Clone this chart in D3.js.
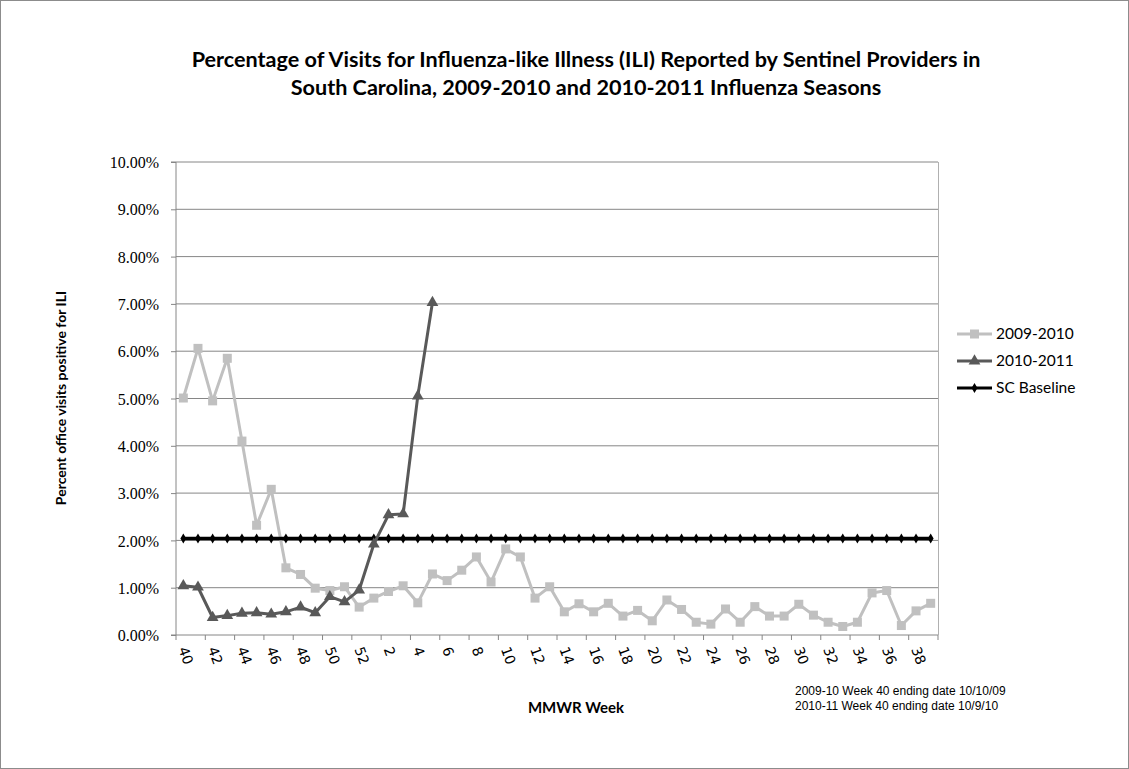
<!DOCTYPE html>
<html>
<head>
<meta charset="utf-8">
<script src="https://cdn.jsdelivr.net/npm/d3@7"></script>
<style>
  body { margin: 0; background: #fff; }
  svg { display: block; }
</style>
</head>
<body>
<svg id="chart" width="1129" height="769"></svg>
<script>
var svg = d3.select("#chart"),
    width = +svg.attr("width"),
    height = +svg.attr("height");

// MMWR weeks 40..52 then 1..39
var weeks = [40,41,42,43,44,45,46,47,48,49,50,51,52,
  1,2,3,4,5,6,7,8,9,10,11,12,13,14,15,16,17,18,19,20,21,22,23,24,25,26,27,28,29,30,31,32,33,34,35,36,37,38,39];

var season0910 = [5.01,6.06,4.95,5.85,4.10,2.32,3.08,1.42,1.28,0.99,0.94,1.02,0.59,
  0.78,0.92,1.04,0.68,1.29,1.15,1.37,1.65,1.12,1.82,1.65,0.78,1.02,0.49,0.66,0.49,0.67,0.40,0.52,0.30,0.74,0.54,0.27,
  0.23,0.55,0.27,0.60,0.40,0.40,0.65,0.42,0.27,0.18,0.27,0.89,0.94,0.20,0.51,0.67];

var season1011 = [1.04,1.01,0.37,0.41,0.46,0.47,0.44,0.49,0.59,0.47,0.81,0.70,0.95,
  1.92,2.54,2.56,5.05,7.03];

var baseline = 2.04;

var yTicks = [0,1,2,3,4,5,6,7,8,9,10];

var plot = {left: 176, right: 938, top: 162, bottom: 635};

var x = d3.scaleBand().domain(weeks).range([plot.left, plot.right]);
var y = d3.scaleLinear().domain([0, 10]).range([plot.bottom, plot.top]);
var cx = function(i){ return x(weeks[i]) + x.bandwidth() / 2; };

// outer frame
svg.append("rect").attr("x", 0.5).attr("y", 0.5)
  .attr("width", width - 1).attr("height", height - 1)
  .attr("fill", "#fff").attr("stroke", "#8c8c8c");

// gridlines
svg.append("g").selectAll("line").data(yTicks.slice(1)).enter()
  .append("line")
  .attr("x1", plot.left).attr("x2", plot.right)
  .attr("y1", function(d){ return y(d); }).attr("y2", function(d){ return y(d); })
  .attr("stroke", "#868686").attr("stroke-width", 1);

// right border of plot area
svg.append("line").attr("x1", plot.right + 0.5).attr("x2", plot.right + 0.5)
  .attr("y1", plot.top).attr("y2", plot.bottom)
  .attr("stroke", "#b0b0b0").attr("stroke-width", 1);

// y axis
var yAxis = d3.axisLeft(y).tickValues(yTicks).tickSize(5).tickPadding(12)
  .tickFormat(function(d){ return d.toFixed(2) + "%"; });
var gy = svg.append("g").attr("transform", "translate(" + plot.left + ",0)").call(yAxis);
gy.select(".domain").attr("stroke", "#868686").attr("d", "M-5," + plot.top + "H0V" + plot.bottom + "H-5");
gy.selectAll(".tick line").attr("stroke", "#868686");
gy.selectAll(".tick text").attr("font-family", "'Liberation Serif', serif")
  .attr("font-size", 16).attr("fill", "#000").attr("dy", "0.35em");

// x axis: labels on every other week, tick marks on category edges
var xAxis = d3.axisBottom(x).tickValues(weeks.filter(function(d, i){ return i % 2 === 0; }))
  .tickSize(0).tickPadding(0);
var gx = svg.append("g").attr("transform", "translate(0," + plot.bottom + ")").call(xAxis);
gx.select(".domain").attr("stroke", "#868686").attr("d", "M" + plot.left + ",0H" + plot.right);
gx.selectAll(".tick text")
  .attr("font-family", "'DejaVu Sans', sans-serif").attr("font-size", 14).attr("fill", "#000")
  .attr("text-anchor", "start").attr("dy", null).attr("y", null)
  .attr("transform", "translate(-5,14) rotate(70)");
var edges = weeks.filter(function(d, i){ return i % 2 === 0; }).map(function(d){ return x(d); });
edges.push(plot.right);
gx.append("g").selectAll("line").data(edges).enter().append("line")
  .attr("x1", function(d){ return d; }).attr("x2", function(d){ return d; })
  .attr("y1", 0).attr("y2", 5).attr("stroke", "#868686");

// lines
var line = d3.line().x(function(d, i){ return cx(i); }).y(function(d){ return y(d); });

var baseVals = weeks.map(function(){ return baseline; });

svg.append("path").datum(season0910).attr("d", line)
  .attr("fill", "none").attr("stroke", "#c0c0c0").attr("stroke-width", 3).attr("stroke-linejoin", "round");
svg.append("g").selectAll("rect").data(season0910).enter().append("rect")
  .attr("x", function(d, i){ return cx(i) - 4.5; }).attr("y", function(d){ return y(d) - 4.5; })
  .attr("width", 9).attr("height", 9).attr("fill", "#c0c0c0");

svg.append("path").datum(baseVals).attr("d", line)
  .attr("fill", "none").attr("stroke", "#000").attr("stroke-width", 3.5);
svg.append("g").selectAll("path").data(baseVals).enter().append("path")
  .attr("d", d3.symbol().type(d3.symbolDiamond).size(30))
  .attr("transform", function(d, i){ return "translate(" + cx(i) + "," + y(d) + ")"; })
  .attr("fill", "#000");

svg.append("path").datum(season1011).attr("d", line)
  .attr("fill", "none").attr("stroke", "#595959").attr("stroke-width", 3).attr("stroke-linejoin", "round");
svg.append("g").selectAll("path").data(season1011).enter().append("path")
  .attr("d", d3.symbol().type(d3.symbolTriangle).size(60))
  .attr("transform", function(d, i){ return "translate(" + cx(i) + "," + y(d) + ")"; })
  .attr("fill", "#595959");

// legend
var legendItems = [
  {name: "2009-2010", color: "#c0c0c0", sym: "square", w: 3},
  {name: "2010-2011", color: "#595959", sym: "triangle", w: 3},
  {name: "SC Baseline", color: "#000", sym: "diamond", w: 3}
];
var lg = svg.append("g").selectAll("g").data(legendItems).enter().append("g")
  .attr("transform", function(d, i){ return "translate(957," + (334 + i * 27) + ")"; });
lg.append("line").attr("x1", 0).attr("x2", 35).attr("y1", 0).attr("y2", 0)
  .attr("stroke", function(d){ return d.color; }).attr("stroke-width", function(d){ return d.w; });
lg.each(function(d){
  var g = d3.select(this);
  if (d.sym === "square") g.append("rect").attr("x", 13).attr("y", -4.5).attr("width", 9).attr("height", 9).attr("fill", d.color);
  if (d.sym === "triangle") g.append("path").attr("d", d3.symbol().type(d3.symbolTriangle).size(60)).attr("transform", "translate(17.5,0)").attr("fill", d.color);
  if (d.sym === "diamond") g.append("path").attr("d", d3.symbol().type(d3.symbolDiamond).size(30)).attr("transform", "translate(17.5,0)").attr("fill", d.color);
});
lg.append("text").attr("x", 39).attr("y", 0).attr("dy", "0.35em")
  .attr("font-family", "Lato, sans-serif").attr("font-size", 15.5).attr("fill", "#000")
  .text(function(d){ return d.name; });

// title
var title = svg.append("text").attr("text-anchor", "middle")
  .attr("font-family", "Lato, sans-serif").attr("font-weight", "bold").attr("font-size", 21.6).attr("fill", "#000");
title.append("tspan").attr("x", 586).attr("y", 67)
  .text("Percentage of Visits for Influenza-like  Illness (ILI) Reported by Sentinel Providers in");
title.append("tspan").attr("x", 586).attr("y", 95)
  .text("South Carolina, 2009-2010 and 2010-2011 Influenza Seasons");

// axis titles
svg.append("text").attr("transform", "translate(66,398) rotate(-90)").attr("text-anchor", "middle")
  .attr("font-family", "Lato, sans-serif").attr("font-weight", "bold").attr("font-size", 14).attr("fill", "#000")
  .text("Percent office visits positive for ILI");
svg.append("text").attr("x", 576).attr("y", 713).attr("text-anchor", "middle")
  .attr("font-family", "Lato, sans-serif").attr("font-weight", "bold").attr("font-size", 15).attr("fill", "#000")
  .text("MMWR Week");

// notes
var notes = ["2009-10  Week 40  ending date 10/10/09", "2010-11  Week 40  ending date 10/9/10"];
svg.append("g").selectAll("text").data(notes).enter().append("text")
  .attr("x", 795).attr("y", function(d, i){ return 695 + i * 15; })
  .attr("font-family", "'Liberation Sans', Arial, sans-serif").attr("font-size", 12).attr("fill", "#000")
  .text(function(d){ return d; });
</script>
</body>
</html>
